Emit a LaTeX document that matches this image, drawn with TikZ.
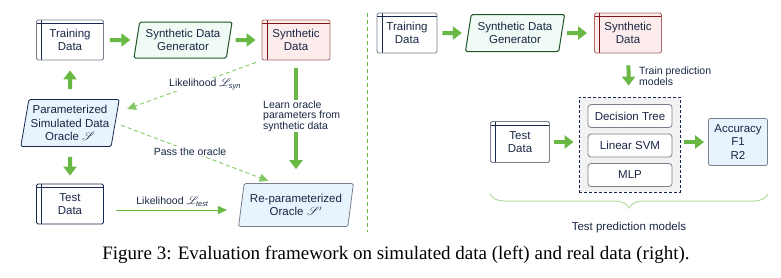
\documentclass[tikz,border=0pt]{standalone}
\usepackage{amsmath}
\usepackage{mathrsfs}
\usepackage{fontspec}
\setmainfont{Liberation Sans}
\newfontfamily\capfont{Liberation Serif}
\usepackage{tikz}
\usetikzlibrary{arrows.meta,shapes.geometric,decorations.pathreplacing}

\definecolor{ArrowGreen}{RGB}{106,184,68}
\definecolor{DashGreen}{RGB}{130,200,100}
\definecolor{BraceGreen}{RGB}{180,220,160}
\definecolor{TextNavy}{RGB}{25,38,68}
\definecolor{NavyLine}{RGB}{22,40,78}
\definecolor{BoxGray}{RGB}{120,128,142}
\definecolor{RedLine}{RGB}{128,20,24}
\definecolor{RedSoft}{RGB}{170,105,105}
\definecolor{PinkFill}{RGB}{253,236,236}
\definecolor{MintFill}{RGB}{240,251,246}
\definecolor{MintLine}{RGB}{32,84,36}
\definecolor{SkyFill}{RGB}{232,244,253}

\begin{document}
\begin{tikzpicture}[x=1pt,y=-1pt,
    font=\fontsize{11.5}{12.5}\selectfont, text=TextNavy,
    store/.style 2 args={draw=#2, line width=0.8pt, rounded corners=1.5pt,
        minimum width=67pt, minimum height=40pt, align=center, inner sep=2pt,
        path picture={
            \draw[#1,line width=0.8pt]
                ([yshift=-3.5pt]path picture bounding box.north west) --
                ([yshift=-3.5pt]path picture bounding box.north east);
            \draw[#1,line width=0.8pt]
                ([xshift=5pt]path picture bounding box.north west) --
                ([xshift=5pt]path picture bounding box.south west);}},
    slanted/.style={trapezium, trapezium left angle=78, trapezium right angle=102,
        trapezium stretches=true, rounded corners=1.5pt, align=center,
        line width=0.8pt, inner sep=1pt, font=\fontsize{11.5}{13.5}\selectfont},
    model/.style={draw=BoxGray, fill=white, rounded corners=3pt, line width=0.8pt,
        minimum width=84pt, minimum height=23pt},
    lbl/.style={font=\fontsize{10.5}{10.5}\selectfont, inner sep=1pt, fill=white},
    bigarrow/.style={draw=ArrowGreen, line width=4pt,
        -{Triangle[width=13pt,length=9pt]}},
    thinarrow/.style={draw=ArrowGreen, line width=1pt,
        -{Triangle[width=8pt,length=9pt]}},
    dasharrow/.style={draw=DashGreen, line width=0.9pt, dash pattern=on 4pt off 3pt,
        -{Triangle[width=8pt,length=9pt]}}]

    \useasboundingbox (0,0) rectangle (781,277);

    % left: simulated data
    \node[store={NavyLine}{BoxGray}] (trainL) at (70,40) {Training\\Data};
    \node[slanted, draw=MintLine, fill=MintFill, line width=1pt,
        minimum width=99pt, minimum height=36pt] (genL) at (183,40)
        {Synthetic Data\\Generator};
    \node[store={RedLine}{RedSoft}, fill=PinkFill, minimum width=68pt]
        (synL) at (296,40) {Synthetic\\Data};
    \node[slanted, draw=NavyLine, fill=SkyFill,
        minimum width=99pt, minimum height=47pt] (oracleL) at (70,123)
        {Parameterized\\Simulated Data\\Oracle $\mathscr{S}$};
    \node[store={NavyLine}{NavyLine}] (testL) at (70,204) {Test\\Data};
    \node[slanted, draw=BoxGray, fill=SkyFill,
        minimum width=115pt, minimum height=43pt] (reorL) at (296,205)
        {Re-parameterized\\Oracle $\mathscr{S}'$};

    \draw[bigarrow, shorten <=6pt, shorten >=6pt] (trainL) -- (genL);
    \draw[bigarrow, shorten <=6pt, shorten >=6pt] (genL) -- (synL);
    \draw[bigarrow, shorten <=10pt, shorten >=10pt] (oracleL) -- (trainL);
    \draw[bigarrow, shorten <=10pt, shorten >=8pt] (oracleL) -- (testL);
    \draw[bigarrow, shorten <=8pt, shorten >=14pt] (synL) -- (reorL);
    \node[lbl, align=left, anchor=west] (learnL) at (262,116)
        {Learn oracle\\parameters from\\synthetic data};

    \draw[dasharrow, shorten <=6pt]
        (synL.south west) -- ([shift={(57,-14)}]oracleL.center)
        node[lbl, pos=0.42, below=-3pt] (likeSyn)
        {Likelihood $\mathscr{L}_{\text{\itshape syn}}$};
    \draw[dasharrow, shorten <=6pt, shorten >=6pt]
        (oracleL.east) -- (reorL.north west)
        node[lbl, pos=0.47] (passL) {Pass the oracle};
    \draw[thinarrow, shorten <=12pt, shorten >=14pt]
        ([yshift=-6pt]testL.east) -- ([yshift=-6pt]testL.east -| reorL.west)
        node[lbl, fill=none, midway, above=2pt] (likeTest)
        {Likelihood $\mathscr{L}_{\text{\itshape test}}$};

    \draw[draw=ArrowGreen, line width=0.8pt, dash pattern=on 4pt off 3pt]
        (367,13) -- (367,232);

    % right: real data
    \node[store={NavyLine}{BoxGray}, minimum width=60pt] (trainR) at (407,33)
        {Training\\Data};
    \node[slanted, draw=MintLine, fill=MintFill, line width=1pt,
        minimum width=100pt, minimum height=37pt] (genR) at (515,33)
        {Synthetic Data\\Generator};
    \node[store={RedLine}{RedSoft}, fill=PinkFill] (synR) at (628,33)
        {Synthetic\\Data};
    \draw[bigarrow, shorten <=5pt, shorten >=6pt] (trainR) -- (genR);
    \draw[bigarrow, shorten <=5pt, shorten >=7pt] (genR) -- (synR);

    \node[draw=NavyLine, fill=gray!10, line width=0.8pt, dash pattern=on 3pt off 2pt,
        minimum width=101pt, minimum height=95pt] (modelsR) at (629.5,144.5) {};
    \node[model] (treeR) at (630,116) {Decision Tree};
    \node[model] (svmR) at (630,145.5) {Linear SVM};
    \node[model] (mlpR) at (630,175) {MLP};

    \node[store={NavyLine}{BoxGray}, minimum width=59pt, minimum height=41pt]
        (testR) at (520,142) {Test\\Data};
    \node[draw=BoxGray, fill=SkyFill, rounded corners=2pt, line width=0.8pt,
        align=center, minimum width=59pt, minimum height=47pt,
        font=\fontsize{11.5}{13.5}\selectfont] (accR) at (738,142)
        {Accuracy\\F1\\R2};

    \draw[bigarrow, shorten <=12pt, shorten >=11pt] (synR) -- (modelsR);
    \node[lbl, fill=none, align=left, anchor=west] (trainLbl) at (638,76)
        {Train prediction\\models};
    \draw[bigarrow, shorten <=4pt, shorten >=5pt] (testR) -- (testR -| modelsR.west);
    \draw[bigarrow, shorten <=4pt, shorten >=4pt] (modelsR.east |- accR) -- (accR);

    \draw[draw=BraceGreen, line width=1pt,
        decorate, decoration={brace, amplitude=14pt, mirror}]
        (testR.west |- 0,194) -- (accR.east |- 0,194)
        node[midway, below=24pt] (braceLbl) {Test prediction models};

    \node[font=\capfont\fontsize{19}{21}\selectfont, text=black] (caption) at (396,255)
        {Figure 3: Evaluation framework on simulated data (left) and real data (right).};
\end{tikzpicture}
\end{document}
